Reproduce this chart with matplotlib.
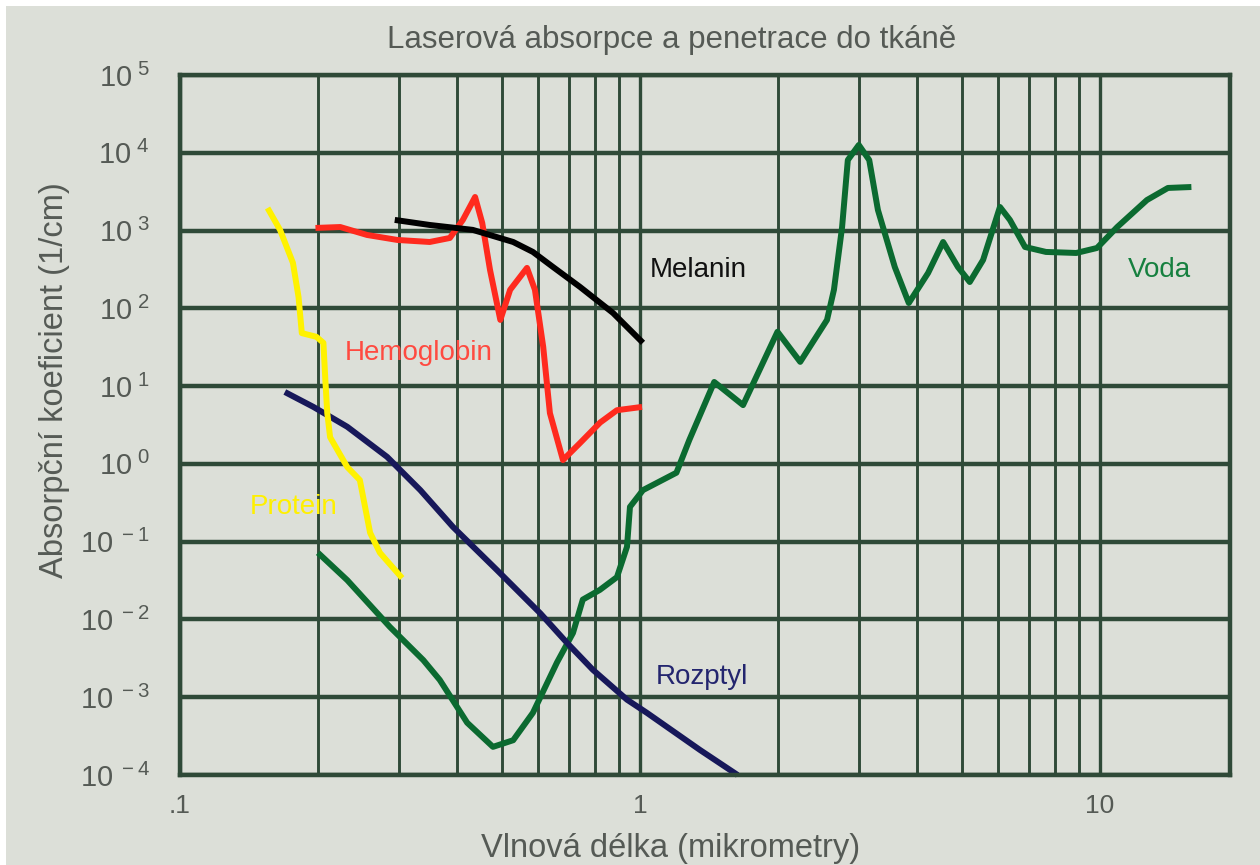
import matplotlib
matplotlib.use("Agg")
import matplotlib.pyplot as plt
from matplotlib.patches import Rectangle
from matplotlib.ticker import FixedLocator, LogLocator, NullFormatter, NullLocator

#-------data-------
protein_x = [0.155, 0.165, 0.176, 0.181, 0.184, 0.198, 0.205, 0.207, 0.209, 0.212,
             0.231, 0.246, 0.259, 0.272, 0.304]
protein_y = [1950, 1020, 384, 140, 48, 43, 36, 12, 4.5, 2.2,
             0.91, 0.62, 0.13, 0.072, 0.034]

hemo_x = [0.197, 0.223, 0.255, 0.297, 0.349, 0.386, 0.412, 0.438, 0.454, 0.472,
          0.497, 0.522, 0.568, 0.591, 0.616, 0.637, 0.680, 0.741, 0.819, 0.891, 1.01]
hemo_y = [1080, 1110, 878, 757, 713, 803, 1370, 2700, 1250, 312,
          71, 173, 331, 173, 32, 4.5, 1.12, 1.86, 3.4, 4.9, 5.4]

melanin_x = [0.293, 0.349, 0.433, 0.530, 0.585, 0.647, 0.741, 0.874, 1.015]
melanin_y = [1370, 1180, 1020, 713, 531, 340, 188, 87, 36]

rozptyl_x = [0.169, 0.195, 0.231, 0.282, 0.333, 0.392, 0.489, 0.607, 0.694,
             0.790, 0.937, 1.035, 1.35, 1.63]
rozptyl_y = [8.4, 5.4, 3.0, 1.23, 0.46, 0.155, 0.043, 0.012, 0.005,
             0.00225, 0.00093, 0.00063, 0.00021, 0.0001]

voda_x = [0.1995, 0.231, 0.286, 0.338, 0.367, 0.421, 0.479, 0.530, 0.585, 0.660,
          0.715, 0.751, 0.818, 0.891, 0.937, 0.951, 1.015, 1.20, 1.28, 1.45,
          1.675, 1.99, 2.23, 2.55, 2.64, 2.75, 2.83, 2.99, 3.15, 3.29,
          3.58, 3.84, 4.23, 4.56, 4.91, 5.21, 5.57, 6.06, 6.37, 6.87,
          7.63, 8.88, 9.85, 10.9, 12.65, 14.05, 15.8]
voda_y = [0.072, 0.032, 0.0080, 0.0030, 0.00167, 0.00047, 0.00023, 0.00028, 0.00063, 0.0028,
          0.0067, 0.018, 0.024, 0.035, 0.086, 0.28, 0.46, 0.77, 2.03, 11.3,
          5.7, 50, 20.5, 71, 173, 1110, 8070, 12600, 8070, 1840,
          340, 117, 285, 713, 340, 218, 419, 2010, 1370, 615,
          531, 515, 597, 1110, 2470, 3530, 3630]

y_exponents = [-4, -3, -2, -1, 0, 1, 2, 3, 4, 5]
x_ticks = [0.1, 1, 10]
x_ticklabels = [".1", "1", "10"]

#-------style-------
FONT = ["Liberation Sans", "DejaVu Sans"]
plt.rcParams["font.family"] = FONT
plt.rcParams["mathtext.fontset"] = "custom"
plt.rcParams["mathtext.rm"] = "Liberation Sans"
plt.rcParams["mathtext.it"] = "Liberation Sans"
BG = "#dcdfd8"
GRID = "#2f4a38"
TXT = "#555a55"

fig = plt.figure(figsize=(12.6, 8.65), dpi=100, facecolor="white")
fig.patches.append(Rectangle((6 / 1260, 0), 1, 1 - 6 / 865, transform=fig.transFigure,
                             facecolor=BG, edgecolor="none", zorder=-10))
ax = fig.add_axes([180 / 1260, 90 / 865, 1050 / 1260, 700 / 865])
ax.set_facecolor(BG)
ax.set_xscale("log")
ax.set_yscale("log")
ax.set_xlim(0.1, 10 ** (1 + 130 / 460))
ax.set_ylim(1e-4, 1e5)

# grid
ax.xaxis.set_major_locator(FixedLocator(x_ticks))
ax.xaxis.set_minor_locator(LogLocator(base=10, subs=range(2, 10)))
ax.xaxis.set_minor_formatter(NullFormatter())
ax.set_xticklabels(x_ticklabels)
ax.yaxis.set_major_locator(FixedLocator([10.0 ** e for e in y_exponents]))
ax.yaxis.set_minor_locator(NullLocator())
ax.set_yticklabels([r"$10^{\ %d}$" % e for e in y_exponents])
ax.grid(which="major", axis="x", color=GRID, linewidth=2.4)
ax.grid(which="minor", axis="x", color=GRID, linewidth=2.1)
ax.grid(which="major", axis="y", color=GRID, linewidth=3.2)
ax.set_axisbelow(True)
for s in ax.spines.values():
    s.set_color(GRID)
    s.set_linewidth(3.2)
ax.tick_params(which="both", length=0, colors=TXT)
ax.tick_params(axis="x", pad=14, labelsize=19)
ax.tick_params(axis="y", pad=22, labelsize=21)

# curves
lw = 4.3
kw = dict(linewidth=lw, solid_joinstyle="round", solid_capstyle="butt", clip_on=False)
ax.plot(voda_x, voda_y, color="#0b6a30", **kw)
ax.plot(rozptyl_x, rozptyl_y, color="#17185a", **kw)
ax.plot(protein_x, protein_y, color="#fff200", **kw)
ax.plot(hemo_x, hemo_y, color="#ff2a1e", **kw)
ax.plot(melanin_x, melanin_y, color="black", **kw)

# curve labels
lab = dict(fontsize=20, va="center", ha="left")
ax.text(1.05, 310, "Melanin", color="#111111", **lab)
ax.text(0.228, 27, "Hemoglobin", color="#ff4a40", **lab)
ax.text(0.142, 0.28, "Protein", color="#fff000", **lab)
ax.text(1.08, 0.0018, "Rozptyl", color="#23256e", **lab)
ax.text(11.5, 310, "Voda", color="#16803f", **lab)

# titles
fig.text(672 / 1260, 1 - 40 / 865, "Laserová absorpce a penetrace do tkáně",
         ha="center", va="center", fontsize=22.5, color=TXT)
fig.text(671 / 1260, 1 - 848 / 865, "Vlnová délka (mikrometry)",
         ha="center", va="center", fontsize=23.5, color=TXT)
fig.text(55 / 1260, 1 - 380 / 865, "Absorpční koeficient (1/cm)", rotation=90,
         ha="center", va="center", fontsize=23.5, color=TXT)

fig.savefig("out.png", dpi=100, facecolor=fig.get_facecolor())
